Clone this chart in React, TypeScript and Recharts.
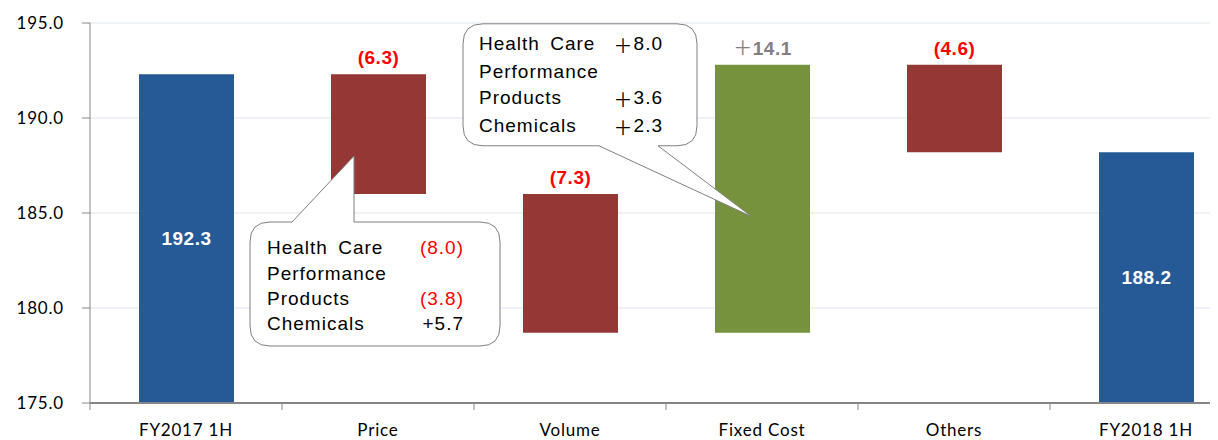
import React from 'react'
import { BarChart, Bar, XAxis, YAxis, CartesianGrid, Cell, LabelList, ReferenceDot } from 'recharts'

const categories = ['FY2017 1H', 'Price', 'Volume', 'Fixed Cost', 'Others', 'FY2018 1H']
const barLow = [175, 186.0, 178.7, 178.7, 188.2, 175]
const barHigh = [192.3, 192.3, 186.0, 192.8, 192.8, 188.2]
const barLabels = ['192.3', '(6.3)', '(7.3)', '＋14.1', '(4.6)', '188.2']
const barKinds = ['total', 'down', 'down', 'up', 'down', 'total']
const yTicks = [175, 180, 185, 190, 195]

const priceDetail = [
  { name: 'Health Care', value: '(8.0)', neg: true },
  { name: 'Performance', value: '', neg: false },
  { name: 'Products', value: '(3.8)', neg: true },
  { name: 'Chemicals', value: '+5.7', neg: false },
]
const fixedDetail = [
  { name: 'Health Care', value: '＋8.0' },
  { name: 'Performance', value: '' },
  { name: 'Products', value: '＋3.6' },
  { name: 'Chemicals', value: '＋2.3' },
]

const COLORS: Record<string, string> = { total: '#265a96', down: '#953735', up: '#76923c' }
const LABEL_COLORS: Record<string, string> = { total: '#ffffff', down: '#ff0000', up: '#808080' }

const data = categories.map((name, i) => ({ name, range: [barLow[i], barHigh[i]] }))

const AXIS = '#868686'
const CALLOUT_FONT = '"Liberation Sans", Arial, sans-serif'
const WIDE_PLUS_FONT = '"Noto Sans CJK JP", sans-serif'

// 全角＋は CJK フォントで描く
const withPlus = (s: string) => s.startsWith('＋')
  ? <><tspan fontFamily={WIDE_PLUS_FONT} fontWeight="normal">＋</tspan>{s.slice(1)}</>
  : s

const CategoryTick = ({ x, y, payload }: any) => (
  <g>
    <line x1={x - 96} x2={x - 96} y1={y} y2={y + 7} stroke={AXIS} strokeWidth={1} />
    <text x={x} y={y + 33} textAnchor="middle" fill="#000" fontSize={17}
      fontFamily="Lato, sans-serif" letterSpacing={0.8}>{payload.value}</text>
  </g>
)

const BarLabel = (props: any) => {
  const { x, y, width, height, index } = props
  const kind = barKinds[index]
  const cx = x + width / 2
  if (kind === 'total') {
    return <text x={cx} y={y + height / 2} dominantBaseline="central" textAnchor="middle"
      fill={LABEL_COLORS[kind]} fontSize={19} fontWeight="bold" fontFamily={CALLOUT_FONT}
      letterSpacing={0.5}>{barLabels[index]}</text>
  }
  return <text x={cx} y={y - 10} textAnchor="middle" fill={LABEL_COLORS[kind]} fontSize={19}
    fontWeight="bold" fontFamily={CALLOUT_FONT} letterSpacing={0.5}>{withPlus(barLabels[index])}</text>
}

function bubblePath(x1: number, y1: number, x2: number, y2: number, r: number,
  tail: { side: 'top' | 'bottom'; a: number; b: number; tx: number; ty: number }) {
  let d = `M ${x1 + r} ${y1}`
  if (tail.side === 'top') d += ` L ${tail.a} ${y1} L ${tail.tx} ${tail.ty} L ${tail.b} ${y1}`
  d += ` L ${x2 - r} ${y1} Q ${x2} ${y1} ${x2} ${y1 + r} L ${x2} ${y2 - r} Q ${x2} ${y2} ${x2 - r} ${y2}`
  if (tail.side === 'bottom') d += ` L ${tail.b} ${y2} L ${tail.tx} ${tail.ty} L ${tail.a} ${y2}`
  d += ` L ${x1 + r} ${y2} Q ${x1} ${y2} ${x1} ${y2 - r} L ${x1} ${y1 + r} Q ${x1} ${y1} ${x1 + r} ${y1} Z`
  return d
}

const PriceCallout = ({ cx, cy }: any) => {
  const tx = cx - 24
  const ty = cy
  const rows = [91, 117, 142, 167]
  return (
    <g>
      <path d={bubblePath(tx - 104, ty + 66, tx + 146, ty + 190, 20,
        { side: 'top', a: tx - 62, b: tx, tx, ty })} fill="#fff" stroke="#7f7f7f" strokeWidth={1} />
      {priceDetail.map((r, i) => (
        <g key={r.name}>
          <text x={tx - 87} y={ty + rows[i]} dominantBaseline="central" fontSize={19}
            fontFamily={CALLOUT_FONT} letterSpacing={1} wordSpacing={4} fill="#000">{r.name}</text>
          {r.value && <text x={tx + 110} y={ty + rows[i]} dominantBaseline="central" textAnchor="end"
            fontSize={19} fontFamily={CALLOUT_FONT} letterSpacing={1}
            fill={r.neg ? '#ff0000' : '#000'}>{r.value}</text>}
        </g>
      ))}
    </g>
  )
}

const FixedCallout = ({ cx, cy }: any) => {
  const tx = cx - 10
  const ty = cy
  const rows = [-173, -145, -119, -91]
  return (
    <g>
      <path d={bubblePath(tx - 289, ty - 193, tx - 55, ty - 71, 20,
        { side: 'bottom', a: tx - 153, b: tx - 94, tx, ty })} fill="#fff" stroke="#7f7f7f" strokeWidth={1} />
      {fixedDetail.map((r, i) => (
        <g key={r.name}>
          <text x={tx - 273} y={ty + rows[i]} dominantBaseline="central" fontSize={19}
            fontFamily={CALLOUT_FONT} letterSpacing={1} wordSpacing={4} fill="#000">{r.name}</text>
          {r.value && <text x={tx - 89} y={ty + rows[i]} dominantBaseline="central" textAnchor="end"
            fontSize={19} fontFamily={CALLOUT_FONT} letterSpacing={1} fill="#000">{withPlus(r.value)}</text>}
        </g>
      ))}
    </g>
  )
}

export default function App() {
  return (
    <div style={{ width: 1210, height: 432, overflow: 'hidden', background: '#fff' }}>
      <BarChart width={1250} height={432} data={data}
        margin={{ top: 15, right: 16, left: 0, bottom: 7 }} barSize={95}>
        <CartesianGrid vertical={false} stroke="#dde3ec" />
        <XAxis dataKey="name" axisLine={{ stroke: AXIS, strokeWidth: 2 }} tickLine={false}
          tickSize={0} tickMargin={0} height={30} tick={<CategoryTick />} interval={0} />
        <YAxis domain={[175, 195]} ticks={yTicks} allowDataOverflow width={82}
          tickFormatter={(v: number) => v.toFixed(1)}
          axisLine={{ stroke: AXIS }} tickLine={{ stroke: AXIS }} tickSize={8} tickMargin={18}
          tick={{ fontSize: 17, fill: '#000', fontFamily: 'Lato, sans-serif', letterSpacing: 0.8 }} />
        <Bar dataKey="range" isAnimationActive={false}>
          {data.map((d, i) => <Cell key={d.name} fill={COLORS[barKinds[i]]} />)}
          <LabelList dataKey="range" content={<BarLabel />} />
        </Bar>
        <ReferenceDot x="Price" y={188.0} shape={(p: any) => <PriceCallout {...p} />} />
        <ReferenceDot x="Fixed Cost" y={184.8} shape={(p: any) => <FixedCallout {...p} />} />
      </BarChart>
    </div>
  )
}
